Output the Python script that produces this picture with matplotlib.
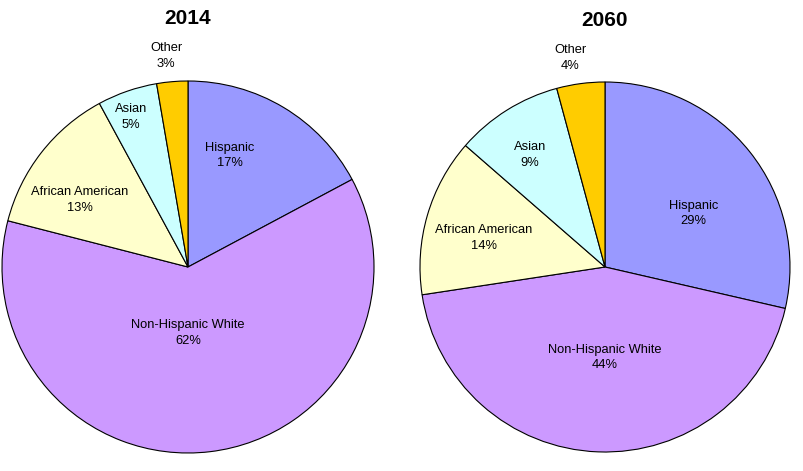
import matplotlib
matplotlib.use("Agg")
import matplotlib.pyplot as plt

plt.rcParams["font.family"] = ["Liberation Sans", "DejaVu Sans"]

# Datos
grupos = ["Hispanic", "Non-Hispanic White", "African American", "Asian", "Other"]
valores_2014 = [17.2, 61.8, 13.1, 5.2, 2.7]
valores_2060 = [28.6, 44.0, 13.8, 9.4, 4.2]
colores = ["#9999FF", "#CC99FF", "#FFFFCC", "#CCFFFF", "#FFCC00"]

# Posición de las etiquetas (en radios del pastel)
etiquetas_2014 = [(0.226, 0.60), (0.0, -0.355), (-0.581, 0.36), (-0.306, 0.806), (-0.118, 1.134)]
etiquetas_2060 = [(0.48, 0.29), (0.0, -0.49), (-0.656, 0.156), (-0.405, 0.605), (-0.189, 1.13)]

W, H = 804, 471
fig = plt.figure(figsize=(W / 100, H / 100), dpi=100)


def pastel(cx, cy, r, valores, etiquetas, titulo, ty):
    ax = fig.add_axes([(cx - r) / W, (H - cy - r) / H, 2 * r / W, 2 * r / H])
    ax.pie(valores, colors=colores, startangle=90, counterclock=False,
           radius=1, wedgeprops=dict(edgecolor="black", linewidth=0.8))
    for g, v, (x, y) in zip(grupos, valores, etiquetas):
        ax.text(x, y, f"{g}\n{round(v)}%", ha="center", va="center",
                fontsize=9.3, linespacing=1.4)
    ax.set_xlim(-1, 1)
    ax.set_ylim(-1, 1)
    ax.set_aspect("equal")
    ax.axis("off")
    fig.text(cx / W, 1 - ty / H, titulo, ha="center", va="center",
             fontsize=15, fontweight="bold")


pastel(188, 267, 186, valores_2014, etiquetas_2014, "2014", 18)
pastel(605, 267, 185, valores_2060, etiquetas_2060, "2060", 20)

fig.savefig("out.png", dpi=100)
